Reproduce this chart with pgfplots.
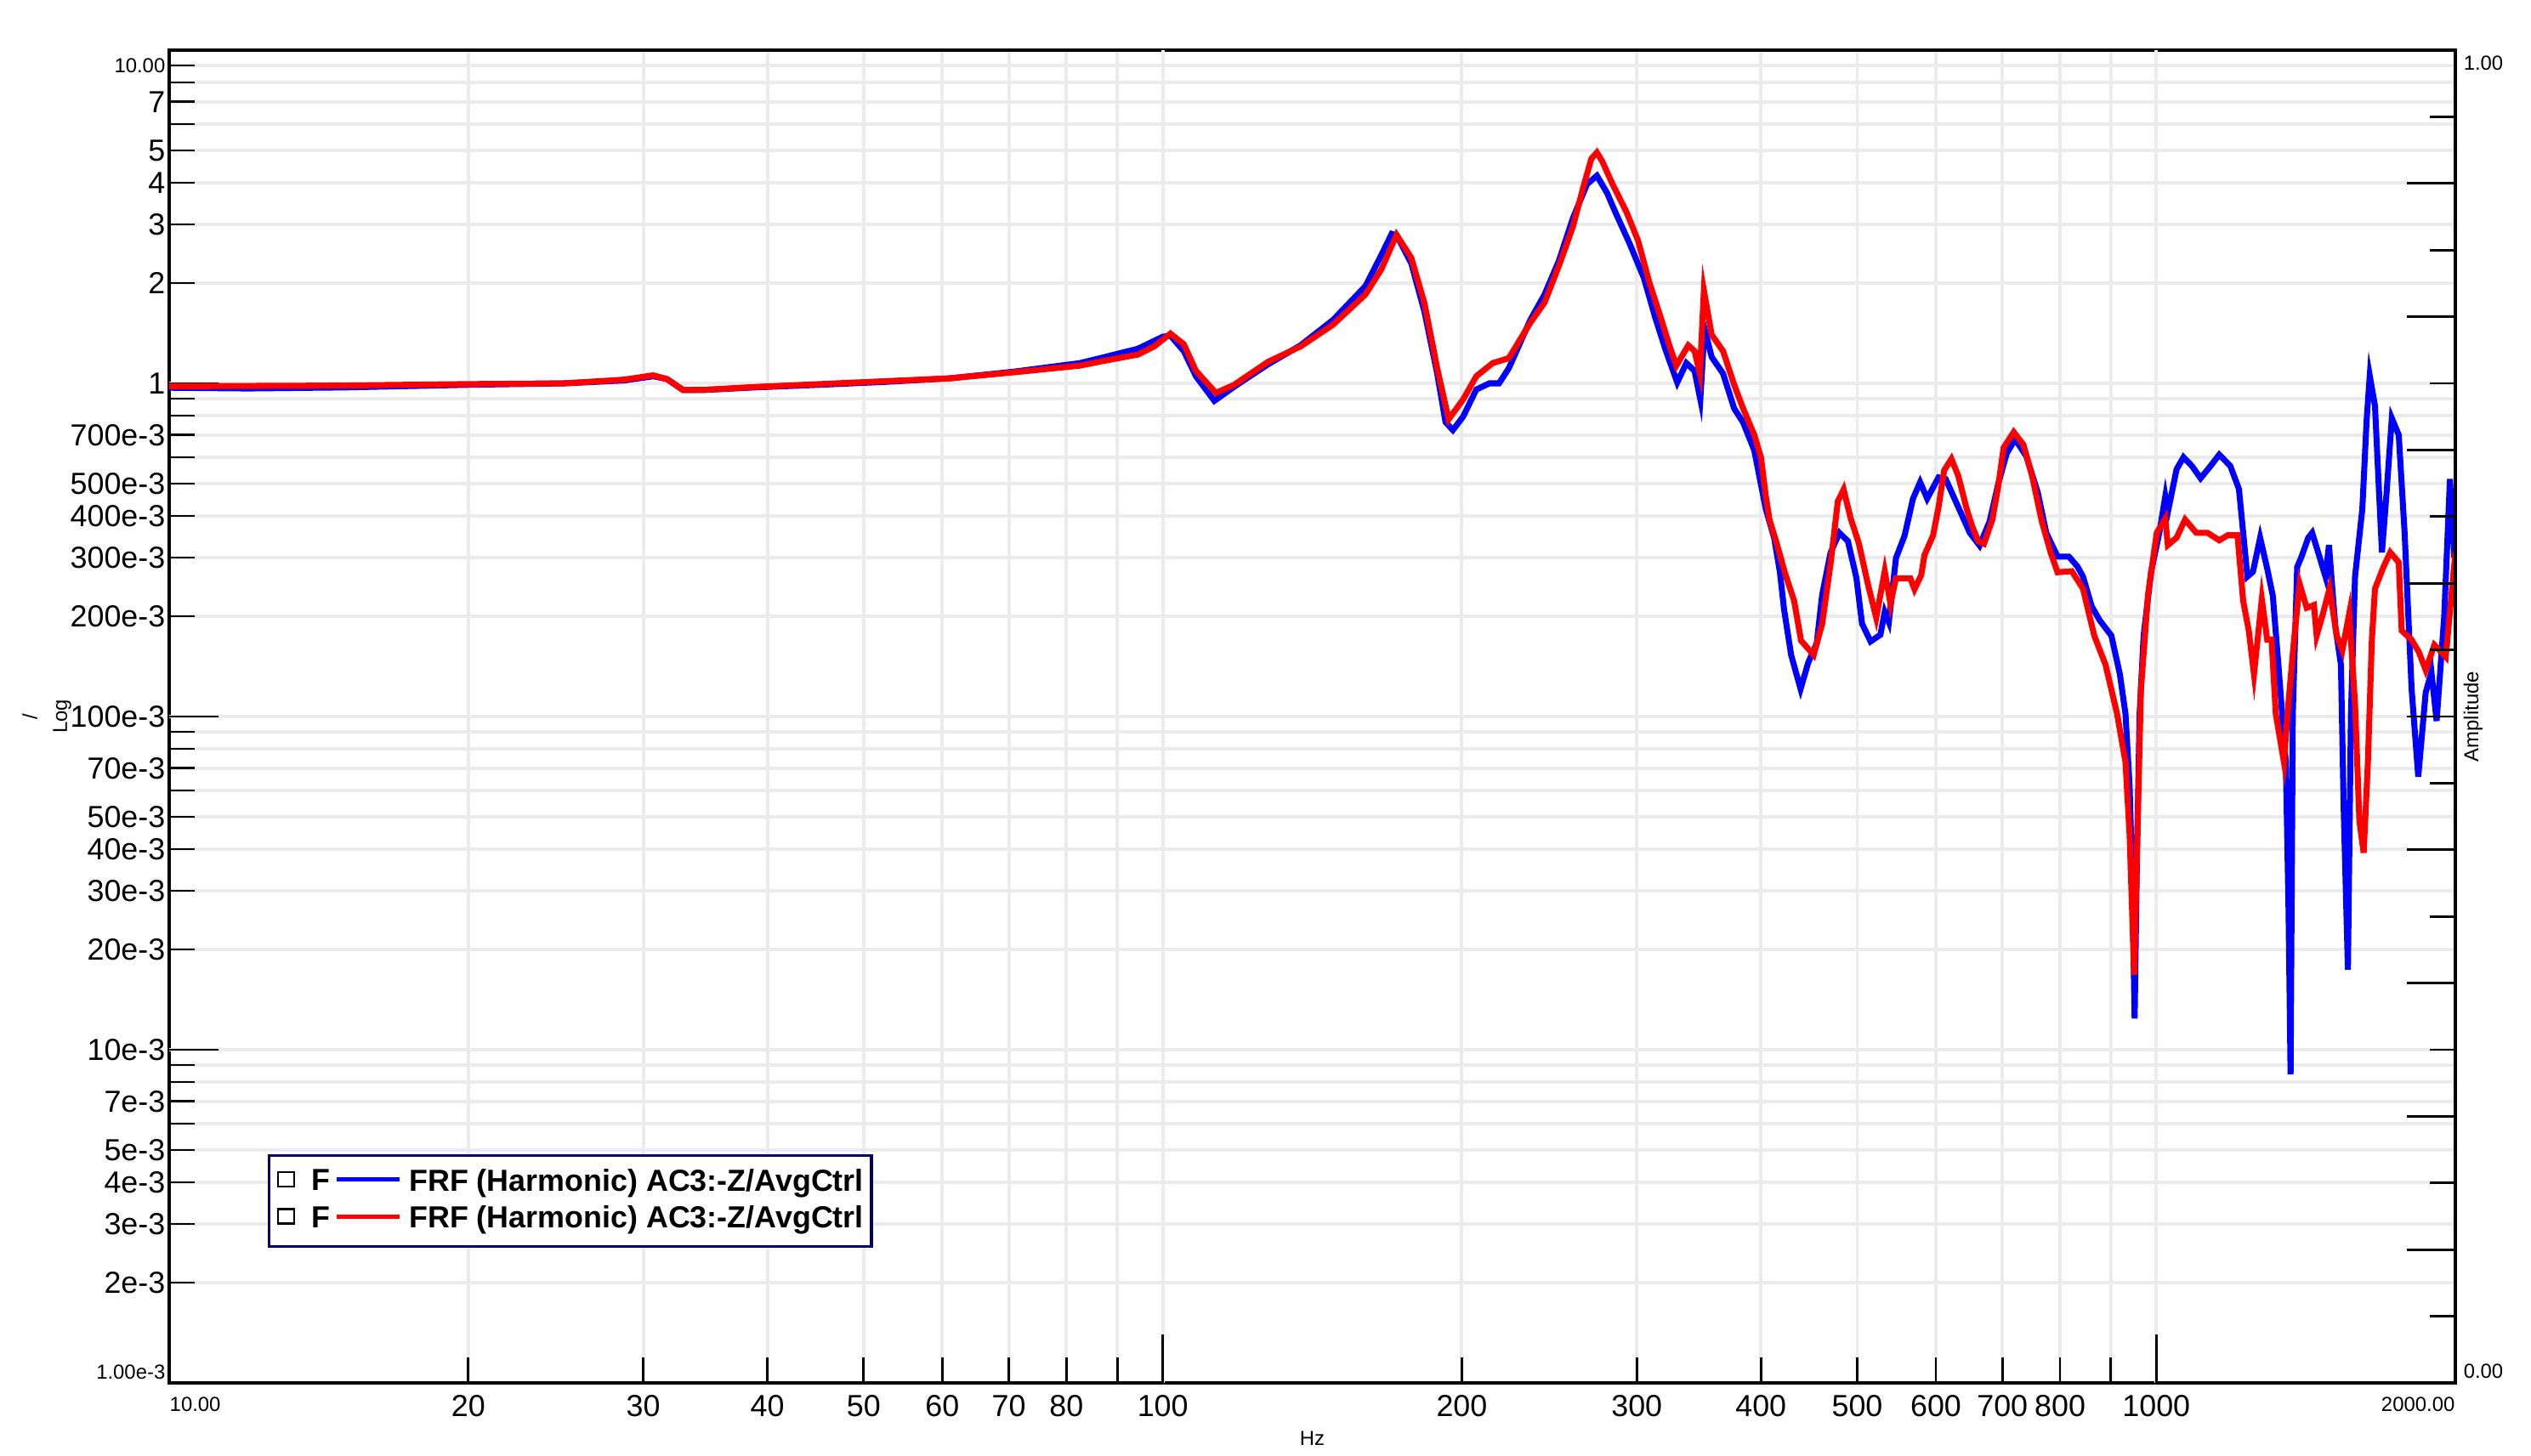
\documentclass[border=0pt]{standalone}
\usepackage{pgfplots}
\usepackage{pgfplotstable}
\pgfplotsset{compat=1.18}
\usepackage{fontspec}
\setmainfont{Liberation Sans}
\definecolor{gridgray}{RGB}{235,235,235}
\definecolor{legnavy}{RGB}{0,0,102}
\definecolor{frfblue}{RGB}{0,0,255}
\definecolor{frfred}{RGB}{255,0,0}
\newcommand{\smallfont}{\fontsize{6.8}{8}\selectfont}
\newcommand{\tickfont}{\fontsize{10.2}{12}\selectfont}

\pgfplotstableread{
f v
10 0.97
12 0.965
15 0.972
20 0.99
25 1.0
28.7 1.02
30.7 1.05
31.7 1.03
32.9 0.955
34.5 0.955
38.8 0.972
45.2 0.99
52.5 1.01
61 1.035
71 1.085
82.5 1.15
87.5 1.2
94.4 1.27
100 1.38
101.8 1.39
105 1.25
108 1.05
112.7 0.886
118 0.977
127.6 1.14
137.6 1.30
148.4 1.55
160 1.96
166 2.43
170 2.81
172 2.78
177.9 2.29
183.4 1.64
188.9 1.07
192.6 0.765
195.9 0.724
200.6 0.795
206.8 0.958
213.2 1.0
218 1.0
223 1.11
234.4 1.55
242.3 1.85
250.4 2.33
258.7 3.13
267.3 3.96
273.5 4.20
280 3.73
285.5 3.26
295 2.63
305 2.07
313 1.58
321 1.25
329.5 1.006
336.5 1.15
343 1.09
347.6 0.894
351 1.46
356.8 1.2
366.4 1.07
376 0.84
383.7 0.765
393.9 0.629
404.5 0.42
412.5 0.343
418 0.271
422 0.21
429 0.153
438.5 0.121
446.3 0.145
455.2 0.166
461 0.232
470 0.31
479.7 0.356
489.3 0.336
499 0.261
505.6 0.19
515.7 0.168
527.6 0.176
532.9 0.206
538 0.192
547 0.299
558 0.349
569 0.451
578.5 0.505
588 0.451
603.7 0.522
613.8 0.516
632 0.425
649 0.356
664 0.326
679.6 0.385
693 0.497
707 0.616
721 0.68
740 0.604
760 0.469
775 0.356
795.6 0.302
816.6 0.302
833 0.282
843.7 0.263
861 0.214
877.5 0.194
901 0.175
919 0.134
931 0.102
940 0.0617
946 0.0314
951 0.0124
956 0.037
962 0.102
971 0.175
988 0.272
1007 0.356
1021 0.458
1027 0.41
1048 0.552
1065 0.60
1086 0.565
1108 0.519
1134 0.565
1157 0.611
1187 0.565
1211 0.482
1223 0.356
1235 0.263
1251 0.272
1272 0.344
1293 0.278
1310 0.23
1327 0.143
1350 0.073
1358.5 0.0265
1365 0.00843
1372 0.102
1386 0.281
1399 0.3
1422 0.344
1435 0.356
1455 0.311
1480 0.263
1492 0.327
1514 0.187
1534 0.143
1544 0.052
1559 0.0174
1570 0.102
1585 0.263
1612 0.42
1628 0.773
1640 1.054
1660 0.856
1676 0.467
1687 0.311
1705 0.467
1726 0.786
1754 0.70
1778 0.356
1807 0.121
1835 0.066
1867 0.118
1892 0.136
1915 0.097
1949 0.2
1975 0.516
1995 0.3
2000 0.33
}\bluedata

\pgfplotstableread{
f v
10 0.98
15 0.985
20 0.995
25 1.0
28.7 1.026
30.7 1.057
31.7 1.03
32.9 0.955
34.5 0.956
38.8 0.975
45.2 0.995
52.5 1.015
61 1.035
71 1.08
82.5 1.13
87.5 1.17
94.4 1.22
98 1.29
101.8 1.41
105 1.31
108 1.09
113.1 0.936
118 0.99
127.6 1.16
137.6 1.29
148.4 1.50
160 1.85
166 2.20
171.9 2.79
177.9 2.38
183.4 1.74
188.9 1.11
194 0.78
200.6 0.895
206.8 1.05
214.8 1.15
223 1.19
234.4 1.52
242.3 1.75
250.4 2.25
258.7 2.95
265 3.88
270 4.72
273.5 4.93
277 4.63
283.6 3.96
293 3.26
300.9 2.68
309 2.0
317 1.58
323.5 1.30
328.8 1.13
338 1.30
343 1.25
347.2 1.07
350.5 1.90
356.8 1.40
366.4 1.25
376 0.99
383.7 0.843
393.9 0.70
400 0.6
404.5 0.46
408 0.39
415 0.33
423.5 0.266
431.9 0.223
439 0.169
452 0.153
461 0.19
470 0.287
478 0.442
484.5 0.48
492.5 0.393
502 0.33
512.3 0.251
522.5 0.198
532.9 0.273
540 0.218
547 0.26
565.5 0.26
571 0.241
580 0.266
584.3 0.305
596 0.349
603.7 0.425
611.6 0.548
622 0.593
632 0.527
644.8 0.417
653 0.371
662 0.336
670.8 0.33
684 0.39
693 0.488
702 0.641
718.6 0.714
735 0.654
750 0.527
767 0.385
783 0.31
795.6 0.271
822 0.273
843.7 0.242
866 0.175
889 0.143
913 0.102
931 0.073
940 0.044
950 0.0168
957 0.044
965 0.121
981 0.232
1001 0.356
1021 0.393
1027 0.327
1048 0.344
1069 0.39
1097 0.356
1126 0.356
1157 0.338
1180 0.35
1207 0.35
1223 0.222
1239 0.181
1254 0.134
1277 0.225
1293 0.17
1306 0.17
1319 0.102
1344 0.073
1358 0.109
1376 0.17
1394 0.25
1417 0.212
1441 0.216
1450 0.175
1469 0.2
1494 0.242
1519 0.175
1539 0.158
1564 0.204
1585 0.109
1601 0.0486
1617 0.039
1633 0.073
1648 0.17
1660 0.242
1693 0.281
1720 0.311
1754 0.29
1766 0.181
1807 0.17
1838 0.156
1867 0.138
1905 0.164
1956 0.151
1982 0.232
2000 0.311
}\reddata

\begin{document}
\begin{tikzpicture}
\useasboundingbox (-19.9mm,-8.5mm) rectangle (277.8mm,162.7mm);
\begin{axis}[
  scale only axis, width=268.9mm, height=156.8mm,
  clip mode=individual,
  xmode=log, ymode=log,
  xmin=10, xmax=2000, ymin=1e-3, ymax=10,
  axis line style={line width=1pt},
  tick align=inside, tick pos=left,
  major tick length=3mm,
  tick style={black, line width=0.8pt},
  grid=major, major grid style={gridgray, line width=1.1pt},
  xtick={20,30,40,50,60,70,80,90,200,300,400,500,600,700,800,900},
  xticklabels={20,30,40,50,60,70,80,,200,300,400,500,600,700,800,},
  extra x ticks={100,1000}, extra x tick labels={100,1000},
  extra x tick style={major tick length=5.7mm},
  ytick={0.002,0.003,0.004,0.005,0.006,0.007,0.008,0.009,0.02,0.03,0.04,0.05,0.06,0.07,0.08,0.09,0.2,0.3,0.4,0.5,0.6,0.7,0.8,0.9,2,3,4,5,6,7,8,9},
  yticklabels={2e-3,3e-3,4e-3,5e-3,,7e-3,,,20e-3,30e-3,40e-3,50e-3,,70e-3,,,200e-3,300e-3,400e-3,500e-3,,700e-3,,,2,3,4,5,,7,,{\smallfont 10.00}},
  extra y ticks={0.01,0.1,1}, extra y tick labels={10e-3,100e-3,1},
  extra y tick style={major tick length=5.8mm},
  tick label style={font=\tickfont},
  xticklabel style={inner sep=0pt, yshift=-1.4mm},
  yticklabel style={inner sep=0pt, xshift=-0.4mm},
  legend cell align=left,
  legend style={
    at={(rel axis cs:0.0431,0.1716)}, anchor=north west,
    draw=legnavy, line width=1pt,
    inner xsep=0.9mm, inner ysep=1.0mm,
    row sep=0pt,
    font=\bfseries\tickfont,
    nodes={inner sep=0pt, text height=3.1mm, text depth=1.2mm},
    /tikz/every odd column/.append style={column sep=0.9mm},
  },
  legend image code/.code={
    \path[draw=none, fill=none] (0mm,-2.1mm) rectangle (14.3mm,2.2mm);
    \draw[black, line width=0.7pt] (0mm,-0.45mm) rectangle (1.9mm,1.25mm);
    \node[anchor=base west, inner sep=0pt, text height=2.5mm, text depth=0mm, text=black, font=\bfseries\tickfont] at (3.6mm,-0.9mm) {F};
    \draw[#1, line width=1.4pt] (6.9mm,0.4mm) -- (14.3mm,0.4mm);
  },
]
\addplot[frfblue, line width=2pt] table[x=f, y=v] {\bluedata};
\addlegendentry{FRF (Harmonic) AC3:-Z/AvgCtrl}
\addplot[frfred, line width=2pt] table[x=f, y=v] {\reddata};
\addlegendentry{FRF (Harmonic) AC3:-Z/AvgCtrl}

\node[font=\smallfont, anchor=west, inner sep=0pt, yshift=-2.5mm] at (rel axis cs:0,0) {10.00};
\node[font=\smallfont, anchor=east, inner sep=0pt, yshift=-2.5mm] at (rel axis cs:1,0) {2000.00};
\node[font=\smallfont, anchor=east, inner sep=0pt, xshift=-0.4mm, yshift=1.3mm] at (rel axis cs:0,0) {1.00e-3};
\node[font=\smallfont, anchor=west, inner sep=0pt, xshift=0.9mm, yshift=-1.5mm] at (rel axis cs:1,1) {1.00};
\node[font=\smallfont, anchor=west, inner sep=0pt, xshift=0.9mm, yshift=1.4mm] at (rel axis cs:1,0) {0.00};
\node[font=\smallfont, inner sep=0pt, yshift=-6.5mm] at (rel axis cs:0.5,0) {Hz};
\node[font=\smallfont, inner sep=0pt, rotate=90, yshift=12.6mm] at (rel axis cs:0,0.5) {Log};
\node[font=\smallfont, inner sep=0pt, rotate=90, yshift=16.4mm] at (rel axis cs:0,0.5) {/};
\node[font=\smallfont, inner sep=0pt, rotate=90, yshift=-2.1mm] at (rel axis cs:1,0.5) {Amplitude};
\end{axis}
\begin{axis}[
  scale only axis, width=268.9mm, height=156.8mm,
  xmin=0, xmax=1, ymin=0, ymax=1,
  hide x axis,
  axis y line*=right,
  axis line style={line width=1pt, -},
  ytick={0.1,0.2,0.3,0.4,0.5,0.6,0.7,0.8,0.9},
  minor ytick={0.05,0.15,0.25,0.35,0.45,0.55,0.65,0.75,0.85,0.95},
  yticklabels={{},{},{},{},{},{},{},{},{}},
  tick align=inside,
  major tick length=5.7mm, minor tick length=3mm,
  tick style={black, line width=0.8pt},
]
\end{axis}
\end{tikzpicture}
\end{document}
